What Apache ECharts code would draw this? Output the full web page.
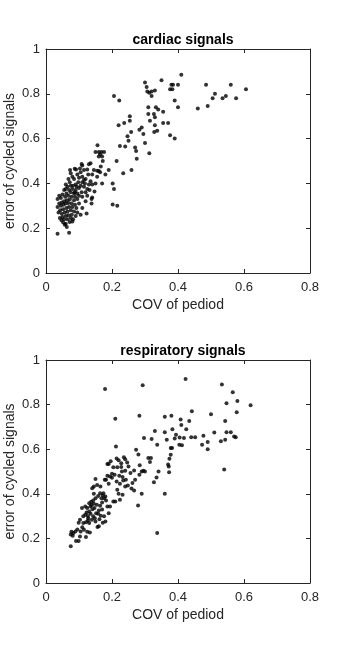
<!DOCTYPE html>
<html>
<head>
<meta charset="utf-8">
<script src="https://cdn.jsdelivr.net/npm/echarts@6/dist/echarts.min.js"></script>
<style>
html,body{margin:0;padding:0;background:#fff;}
#chart{width:342px;height:656px;}
</style>
</head>
<body>
<div id="chart"></div>
<script>
// 心脏信号 (COV, error)
var cardiacPoints = [
  [0.41,0.885],[0.35,0.86],[0.30,0.85],[0.305,0.83],[0.307,0.81],[0.313,0.805],[0.32,0.81],[0.33,0.815],
  [0.32,0.79],[0.376,0.82],[0.38,0.84],[0.383,0.82],[0.385,0.84],[0.40,0.84],[0.39,0.77],[0.40,0.74],
  [0.31,0.74],[0.333,0.74],[0.34,0.73],[0.355,0.72],[0.31,0.71],[0.327,0.71],[0.33,0.695],[0.315,0.68],
  [0.355,0.67],[0.37,0.67],[0.33,0.66],[0.328,0.63],[0.337,0.635],[0.30,0.58],[0.376,0.615],[0.39,0.60],
  [0.313,0.535],[0.206,0.79],[0.222,0.77],[0.22,0.66],[0.237,0.67],[0.254,0.70],[0.254,0.68],[0.258,0.63],
  [0.247,0.61],[0.25,0.59],[0.224,0.567],[0.24,0.565],[0.283,0.64],[0.29,0.65],[0.295,0.62],[0.27,0.56],
  [0.273,0.545],[0.275,0.51],[0.259,0.46],[0.234,0.445],[0.214,0.50],[0.202,0.40],[0.206,0.375],[0.202,0.306],
  [0.216,0.30],[0.46,0.734],[0.485,0.84],[0.49,0.745],[0.505,0.78],[0.512,0.80],[0.535,0.78],[0.545,0.79],
  [0.56,0.84],[0.576,0.78],[0.606,0.82],
  [0.156,0.57],[0.15,0.54],[0.16,0.54],[0.164,0.53],[0.168,0.54],[0.176,0.54],[0.16,0.52],[0.17,0.52],
  [0.172,0.50],[0.166,0.475],[0.145,0.46],[0.155,0.457],[0.164,0.45],[0.18,0.44],[0.19,0.46],[0.17,0.40],
  [0.147,0.364],[0.15,0.40],[0.14,0.337],[0.138,0.31],[0.135,0.49],[0.11,0.48]
];
var cardiacCluster = [
  [0.073,0.46],[0.075,0.445],[0.087,0.465],[0.091,0.462],[0.103,0.466],[0.108,0.487],[0.115,0.46],[0.125,0.462],
  [0.13,0.485],[0.095,0.44],[0.08,0.43],[0.068,0.42],[0.072,0.405],[0.085,0.42],[0.1,0.425],[0.11,0.43],
  [0.12,0.42],[0.128,0.44],[0.135,0.41],[0.14,0.395],[0.13,0.395],[0.118,0.4],[0.11,0.405],[0.105,0.39],
  [0.098,0.405],[0.09,0.395],[0.082,0.39],[0.075,0.39],[0.065,0.385],[0.06,0.375],[0.055,0.37],[0.07,0.37],
  [0.08,0.375],[0.09,0.37],[0.1,0.38],[0.115,0.385],[0.125,0.375],[0.132,0.37],[0.12,0.36],[0.108,0.36],
  [0.095,0.355],[0.085,0.355],[0.075,0.36],[0.062,0.355],[0.05,0.35],[0.04,0.345],[0.035,0.33],[0.045,0.335],
  [0.058,0.34],[0.068,0.345],[0.078,0.34],[0.088,0.34],[0.1,0.345],[0.11,0.34],[0.095,0.33],[0.085,0.325],
  [0.072,0.328],[0.063,0.325],[0.055,0.32],[0.048,0.315],[0.04,0.31],[0.035,0.295],[0.045,0.3],[0.053,0.305],
  [0.06,0.31],[0.068,0.312],[0.078,0.31],[0.088,0.305],[0.1,0.31],[0.11,0.29],[0.092,0.29],[0.08,0.295],
  [0.07,0.295],[0.062,0.29],[0.052,0.285],[0.043,0.28],[0.038,0.27],[0.048,0.265],[0.057,0.27],[0.065,0.275],
  [0.075,0.28],[0.085,0.275],[0.095,0.27],[0.105,0.26],[0.123,0.266],[0.09,0.255],[0.078,0.26],[0.068,0.258],
  [0.06,0.255],[0.05,0.25],[0.042,0.245],[0.047,0.235],[0.055,0.24],[0.065,0.24],[0.075,0.245],[0.082,0.24],
  [0.052,0.225],[0.06,0.22],[0.072,0.228],[0.08,0.23],[0.063,0.205],[0.07,0.18],[0.035,0.175],[0.057,0.215],
  [0.087,0.36],[0.093,0.385],[0.115,0.415],[0.06,0.395],[0.105,0.45],[0.14,0.44],[0.155,0.43],[0.16,0.455],
  [0.125,0.345],[0.138,0.33],[0.12,0.32]
];
// 呼吸信号 (COV, error)
var respPoints = [
  [0.179,0.87],[0.293,0.887],[0.423,0.915],[0.533,0.89],[0.566,0.855],[0.547,0.806],[0.58,0.816],[0.578,0.766],
  [0.62,0.797],[0.21,0.737],[0.283,0.75],[0.36,0.745],[0.38,0.75],[0.442,0.77],[0.408,0.733],[0.434,0.727],
  [0.41,0.709],[0.50,0.757],[0.36,0.676],[0.366,0.642],[0.383,0.69],[0.394,0.665],[0.39,0.648],[0.405,0.652],
  [0.418,0.65],[0.425,0.69],[0.44,0.654],[0.452,0.654],[0.404,0.62],[0.412,0.618],[0.33,0.682],[0.32,0.646],
  [0.337,0.62],[0.297,0.65],[0.477,0.66],[0.49,0.632],[0.473,0.62],[0.49,0.60],[0.51,0.675],[0.53,0.636],
  [0.543,0.642],[0.543,0.727],[0.547,0.676],[0.56,0.676],[0.57,0.657],[0.575,0.654],[0.54,0.509],[0.378,0.605],
  [0.382,0.605],[0.378,0.575],[0.374,0.557],[0.37,0.531],[0.372,0.522],[0.373,0.497],[0.36,0.40],[0.337,0.224],
  [0.273,0.597],[0.28,0.576],[0.284,0.528],[0.31,0.56],[0.318,0.56],[0.315,0.543],[0.295,0.503],[0.3,0.50],
  [0.29,0.50],[0.283,0.485],[0.29,0.40],[0.279,0.348],[0.341,0.50],[0.327,0.452],[0.335,0.473],[0.212,0.612]
];
var respMiddle = [
  [0.19,0.534],[0.196,0.546],[0.214,0.558],[0.22,0.551],[0.204,0.519],[0.216,0.519],[0.228,0.537],[0.236,0.564],
  [0.24,0.555],[0.246,0.54],[0.25,0.522],[0.24,0.503],[0.23,0.5],[0.208,0.485],[0.2,0.472],[0.186,0.481],
  [0.178,0.463],[0.222,0.481],[0.232,0.475],[0.242,0.463],[0.214,0.455],[0.224,0.445],[0.24,0.433],[0.248,0.437],
  [0.259,0.424],[0.267,0.415],[0.216,0.418],[0.22,0.4],[0.232,0.396],[0.224,0.373],[0.204,0.366],[0.21,0.366],
  [0.194,0.343],[0.262,0.448],[0.27,0.463],[0.256,0.493],[0.267,0.504],[0.228,0.52],[0.234,0.46]
];
var respCluster = [
  [0.075,0.165],[0.083,0.224],[0.075,0.218],[0.077,0.23],[0.081,0.212],[0.089,0.231],[0.091,0.188],[0.099,0.188],
  [0.103,0.209],[0.105,0.231],[0.115,0.239],[0.121,0.206],[0.125,0.23],[0.133,0.227],[0.113,0.269],[0.121,0.272],
  [0.127,0.28],[0.131,0.269],[0.113,0.299],[0.119,0.306],[0.123,0.316],[0.131,0.321],[0.139,0.284],[0.143,0.299],
  [0.131,0.358],[0.137,0.364],[0.143,0.37],[0.135,0.343],[0.147,0.336],[0.154,0.351],[0.16,0.325],[0.164,0.346],
  [0.17,0.361],[0.172,0.394],[0.164,0.403],[0.174,0.403],[0.18,0.388],[0.182,0.37],[0.186,0.343],[0.19,0.313],
  [0.176,0.299],[0.166,0.302],[0.16,0.254],[0.156,0.251],[0.18,0.276],[0.15,0.276],[0.145,0.433],[0.15,0.466],
  [0.14,0.425],[0.155,0.44],[0.165,0.433],[0.182,0.463],[0.19,0.445],[0.194,0.478],[0.2,0.49],[0.186,0.534],
  [0.103,0.284],[0.099,0.27],[0.109,0.336],[0.119,0.343],[0.125,0.336],[0.141,0.331],[0.152,0.313],[0.127,0.3],
  [0.138,0.35],[0.145,0.355],[0.15,0.38],[0.158,0.39],[0.168,0.38],[0.176,0.38],[0.17,0.33],[0.158,0.31],
  [0.135,0.31],[0.128,0.29],[0.148,0.29],[0.162,0.286],[0.172,0.27],[0.11,0.25],[0.095,0.24],[0.145,0.4]
];

var fontFamily = 'Liberation Sans';
var textColor = '#262626';

function xAxisPair(gridIndex){
  return [{
    type: 'value', gridIndex: gridIndex, min: 0, max: 0.8, interval: 0.2,
    name: 'COV of pediod', nameLocation: 'middle', nameGap: 25, nameMoveOverlap: false,
    nameTextStyle: {color: textColor, fontSize: 14, fontFamily: fontFamily},
    axisLine: {show: true, onZero: false, lineStyle: {color: textColor, width: 1}},
    axisTick: {show: true, inside: true, length: 4, lineStyle: {color: textColor}},
    axisLabel: {color: textColor, fontSize: 13, fontFamily: fontFamily, margin: 8,
      formatter: function(v){ return v === 0 ? '0' : String(+v.toFixed(1)); }},
    splitLine: {show: false}
  }, {
    type: 'value', gridIndex: gridIndex, position: 'top', min: 0, max: 0.8, interval: 0.2,
    axisLine: {show: true, onZero: false, lineStyle: {color: textColor, width: 1}},
    axisTick: {show: true, inside: true, length: 4, lineStyle: {color: textColor}},
    axisLabel: {show: false}, splitLine: {show: false}
  }];
}
function yAxisPair(gridIndex){
  return [{
    type: 'value', gridIndex: gridIndex, min: 0, max: 1, interval: 0.2,
    name: 'error of cycled signals', nameLocation: 'middle', nameGap: 29, nameMoveOverlap: false,
    nameTextStyle: {color: textColor, fontSize: 14, fontFamily: fontFamily},
    axisLine: {show: true, onZero: false, lineStyle: {color: textColor, width: 1}},
    axisTick: {show: true, inside: true, length: 4, lineStyle: {color: textColor}},
    axisLabel: {color: textColor, fontSize: 13, fontFamily: fontFamily, margin: 6,
      formatter: function(v){ return (v === 0 || v === 1) ? String(v) : String(+v.toFixed(1)); }},
    splitLine: {show: false}
  }, {
    type: 'value', gridIndex: gridIndex, position: 'right', min: 0, max: 1, interval: 0.2,
    axisLine: {show: true, onZero: false, lineStyle: {color: textColor, width: 1}},
    axisTick: {show: true, inside: true, length: 4, lineStyle: {color: textColor}},
    axisLabel: {show: false}, splitLine: {show: false}
  }];
}

var dotStyle = {color: '#000'};
var option = {
  backgroundColor: '#fff',
  animation: false,
  title: [{
    text: 'cardiac signals', left: 178, top: 28, textAlign: 'center',
    textStyle: {color: '#000', fontSize: 14, fontWeight: 'bold', fontFamily: fontFamily}
  }, {
    text: 'respiratory signals', left: 178, top: 339, textAlign: 'center',
    textStyle: {color: '#000', fontSize: 14, fontWeight: 'bold', fontFamily: fontFamily}
  }],
  grid: [
    {left: 46, top: 49, width: 264, height: 224, outerBoundsMode: 'none', containLabel: false},
    {left: 46, top: 360, width: 264, height: 223, outerBoundsMode: 'none', containLabel: false}
  ],
  xAxis: xAxisPair(0).concat(xAxisPair(1)),
  yAxis: yAxisPair(0).concat(yAxisPair(1)),
  series: [
    {type: 'scatter', xAxisIndex: 0, yAxisIndex: 0, symbolSize: 4, itemStyle: dotStyle,
      data: cardiacPoints.concat(cardiacCluster)},
    {type: 'scatter', xAxisIndex: 2, yAxisIndex: 2, symbolSize: 4, itemStyle: dotStyle,
      data: respPoints.concat(respMiddle, respCluster)}
  ]
};

var chart = echarts.init(document.getElementById('chart'), null, {renderer: 'canvas'});
chart.setOption(option);
</script>
</body>
</html>
